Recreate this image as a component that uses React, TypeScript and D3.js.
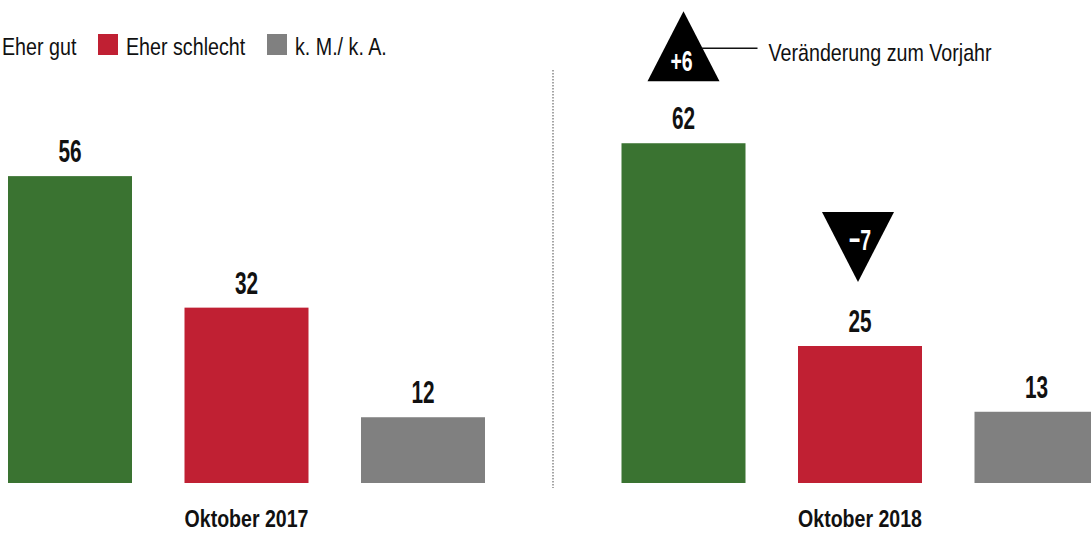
import React from "react";
import * as d3 from "d3";

const periods = ["Oktober 2017", "Oktober 2018"];
const answers = ["Eher gut", "Eher schlecht", "k. M./ k. A."];
const values2017 = [56, 32, 12];
const values2018 = [62, 25, 13];
const change2018: (number | null)[] = [6, -7, null];
const colors = ["#3a7331", "#c02033", "#808080"];
const changeLegendLabel = "Veränderung zum Vorjahr";

const W = 1091;
const H = 533;
const FONT = "'Liberation Sans', Arial, sans-serif";

function NText(props: { x: number; y: number; sx?: number; sy?: number; anchor?: string; size: number; bold?: boolean; fill?: string; children: React.ReactNode }) {
  const { x, y, sx = 0.82, sy = 1, anchor = "start", size, bold, fill = "#111", children } = props;
  return (
    <text transform={`translate(${x},${y}) scale(${sx},${sy})`} textAnchor={anchor as any}
      fontFamily={FONT} fontWeight={bold ? "bold" : "normal"} fontSize={size} fill={fill}>{children}</text>
  );
}

export default function App() {
  const series = [values2017, values2018];
  const changes: (number | null)[][] = [[null, null, null], change2018];

  const groupX = d3.scaleBand<string>().domain(periods).range([8, 8 + 2 * 613.5]).paddingInner(0).paddingOuter(0);
  const innerX = d3.scaleBand<string>().domain(answers).range([0, 477]).paddingInner(1 - 124 / 176.5).paddingOuter(0);
  const y = d3.scaleLinear().domain([0, 100]).range([483, 483 - 548]);

  const legendTextX = [2, 126, 295];
  const tri = (cx: number, baseY: number, apexY: number, half: number) =>
    d3.line()([[cx - half, baseY], [cx + half, baseY], [cx, apexY]]) + "Z";

  return (
    <svg width={W} height={H} style={{ position: "absolute", left: 0, top: 0, display: "block", background: "#fff" }}>
      {/* legend */}
      {answers.map((a, i) => (
        <g key={a}>
          <rect x={legendTextX[i] - 28} y={34} width={20} height={21} fill={colors[i]} />
          <NText x={legendTextX[i]} y={55} size={24}>{a}</NText>
        </g>
      ))}
      {/* divider */}
      <line x1={553} x2={553} y1={70} y2={488} stroke="#888" strokeWidth={1.5} strokeDasharray="1.5,1.5" />
      {periods.map((p, gi) => {
        const gx = groupX(p)!;
        return (
          <g key={p}>
            {answers.map((a, i) => {
              const v = series[gi][i];
              const x = gx + innerX(a)!;
              const bw = innerX.bandwidth();
              const cx = x + bw / 2;
              const top = y(v);
              const ch = changes[gi][i];
              return (
                <g key={a}>
                  <rect x={x} y={top} width={bw} height={y(0) - top} fill={colors[i]} />
                  <NText x={cx} y={top - 14} sx={0.8} sy={1.2} anchor="middle" size={26} bold>{v}</NText>
                  {ch !== null && ch > 0 && (
                    <g>
                      <path d={tri(cx, top - 62, top - 132, 36)} fill="#000" />
                      <NText x={cx - 2} y={top - 72} sx={0.78} sy={1.2} anchor="middle" size={25} bold fill="#fff">{"+" + ch}</NText>
                      <line x1={cx + 18} x2={cx + 74} y1={top - 95} y2={top - 95} stroke="#111" strokeWidth={1.5} />
                      <NText x={cx + 85} y={top - 82} size={24}>{changeLegendLabel}</NText>
                    </g>
                  )}
                  {ch !== null && ch < 0 && (
                    <g>
                      <path d={tri(cx - 2, top - 134, top - 64, 36)} fill="#000" />
                      <NText x={cx} y={top - 96} sx={0.78} sy={1.2} anchor="middle" size={25} bold fill="#fff">{"\u2212" + Math.abs(ch)}</NText>
                    </g>
                  )}
                </g>
              );
            })}
            <NText x={gx + innerX(answers[1])! + innerX.bandwidth() / 2} y={527} sx={0.85} anchor="middle" size={23} bold>{p}</NText>
          </g>
        );
      })}
    </svg>
  );
}
